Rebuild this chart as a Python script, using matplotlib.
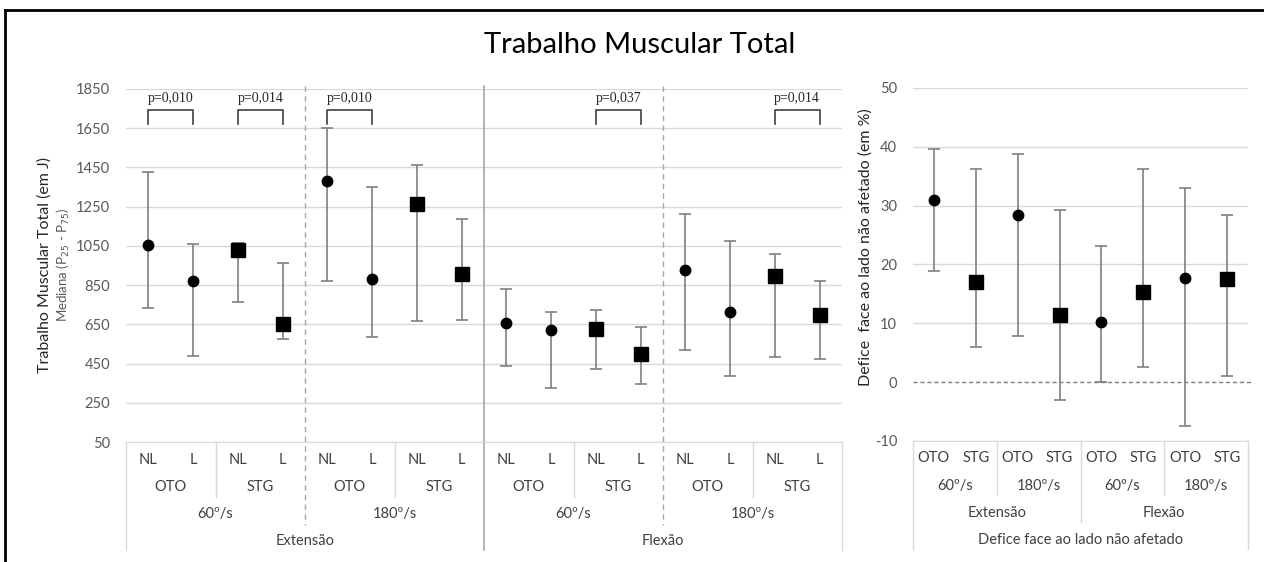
import numpy as np
import matplotlib.pyplot as plt
from matplotlib.lines import Line2D
from matplotlib.transforms import blended_transform_factory

plt.rcParams['font.family'] = ['Lato', 'DejaVu Sans']
plt.rcParams['axes.unicode_minus'] = False

# ---- data: left chart (Trabalho Muscular Total, J) ----
side = ["NL", "L"] * 8
group = ["OTO", "STG"] * 4
speed = ["60º/s", "180º/s"] * 2
movement = ["Extensão", "Flexão"]

tw_median = [1052, 872, 1030, 653, 1383, 880, 1263, 906, 656, 622, 628, 498, 928, 715, 895, 697]
tw_p25 = [734, 486, 763, 576, 873, 586, 666, 671, 437, 325, 422, 345, 521, 386, 483, 473]
tw_p75 = [1429, 1059, 1067, 962, 1650, 1349, 1463, 1187, 831, 715, 725, 636, 1213, 1074, 1011, 872]

pvals = [(0, "p=0,010"), (2, "p=0,014"), (4, "p=0,010"), (10, "p=0,037"), (14, "p=0,014")]

# ---- data: right chart (Defice face ao lado não afetado, %) ----
r_group = ["OTO", "STG"] * 4
r_speed = ["60º/s", "180º/s"] * 2
r_movement = ["Extensão", "Flexão"]

dfc_median = [31.0, 17.0, 28.4, 11.5, 10.2, 15.4, 17.7, 17.5]
dfc_p25 = [18.9, 5.9, 7.8, -3.0, 0.0, 2.6, -7.4, 1.1]
dfc_p75 = [39.6, 36.2, 38.7, 29.3, 23.1, 36.2, 33.0, 28.4]

W, H = 1264, 562
fig = plt.figure(figsize=(W / 100, H / 100), dpi=100)

GRID = '#d9d9d9'
TXT = '#404040'
TICK = '#595959'
ERR = '#7f7f7f'


def px_axes(x0, x1, ytop, ybot):
    return fig.add_axes([x0 / W, 1 - ybot / H, (x1 - x0) / W, (ybot - ytop) / H])


def draw_points(ax, med, lo, hi, groups):
    for i, (m, a, b, g) in enumerate(zip(med, lo, hi, groups)):
        ax.errorbar(i, m, yerr=[[m - a], [b - m]], fmt='none', ecolor=ERR,
                    elinewidth=1.2, capsize=4, capthick=1.2, zorder=3)
        if g == "OTO":
            ax.plot(i, m, 'o', color='black', ms=7.5, zorder=4)
        else:
            ax.plot(i, m, 's', color='black', ms=9.5, zorder=4)


def style_axes(ax):
    for s in ['top', 'right', 'left']:
        ax.spines[s].set_visible(False)
    ax.spines['bottom'].set_color(GRID)
    ax.tick_params(axis='y', length=0, labelsize=10.5, labelcolor=TICK, pad=11.5)
    ax.tick_params(axis='x', length=0, labelbottom=False)
    ax.yaxis.grid(True, color=GRID, lw=1)
    ax.set_axisbelow(True)


def vline(ax, x, y0, y1, **kw):
    tr = blended_transform_factory(ax.transData, ax.transAxes)
    ax.add_line(Line2D([x, x], [y0, y1], transform=tr, clip_on=False, **kw))


def cat_text(ax, x, y, s, **kw):
    tr = blended_transform_factory(ax.transData, ax.transAxes)
    ax.text(x, y, s, transform=tr, ha='center', va='center', fontsize=10.5,
            color=TXT, clip_on=False, **kw)


# ================= left chart =================
ax = px_axes(126, 842, 89, 442)
draw_points(ax, tw_median, tw_p25, tw_p75, [group[i // 2] for i in range(16)])
ax.set_xlim(-0.5, 15.5)
ax.set_ylim(50, 1850)
ax.set_yticks(np.arange(50, 1851, 200))
style_axes(ax)

hpx = 353.0
for i, s in enumerate(side):
    cat_text(ax, i, -18 / hpx, s)
for k, g in enumerate(group):
    cat_text(ax, 2 * k + 0.5, -45 / hpx, g)
for k, s in enumerate(speed):
    cat_text(ax, 4 * k + 1.5, -72 / hpx, s)
for k, m in enumerate(movement):
    cat_text(ax, 8 * k + 3.5, -99 / hpx, m)

for k in range(1, 8):
    if k % 2:
        vline(ax, 2 * k - 0.5, 0, -55 / hpx, color=GRID, lw=1)
vline(ax, -0.5, 0, -108 / hpx, color=GRID, lw=1)
vline(ax, 15.5, 0, -108 / hpx, color=GRID, lw=1)
for x in (3.5, 11.5):
    vline(ax, x, 1.008, -83 / hpx, color='#a6a6a6', lw=1, ls=(0, (4, 3)))
vline(ax, 7.5, 1.008, -108 / hpx, color='#a6a6a6', lw=1.2)

for i, lab in pvals:
    ax.plot([i, i, i + 1, i + 1], [1672, 1743, 1743, 1672], color='#404040', lw=1.2)
    ax.text(i + 0.5, 1800, lab, ha='center', va='center', fontsize=10,
            family='Liberation Serif', color='#262626')

fig.text(45 / W, 1 - 265 / H, "Trabalho Muscular Total (em J)", rotation=90,
         ha='center', va='center', fontsize=11.5, color='#262626')
fig.text(63 / W, 1 - 265 / H, r"Mediana (P$_{25}$ - P$_{75}$)", rotation=90,
         ha='center', va='center', fontsize=9.5, color=TICK)

# ================= right chart =================
axr = px_axes(913, 1248, 88, 441)
draw_points(axr, dfc_median, dfc_p25, dfc_p75, r_group)
axr.set_xlim(-0.5, 7.5)
axr.set_ylim(-10, 50)
axr.set_yticks(np.arange(-10, 51, 10))
style_axes(axr)
gl = axr.get_ygridlines()
gl[1].set_visible(False)
axr.add_line(Line2D([-0.5, 7.6], [0, 0], color='#7f7f7f', lw=1, ls=(0, (3, 2)),
                    clip_on=False, zorder=2))

for i, g in enumerate(r_group):
    cat_text(axr, i, -16.7 / hpx, g)
for k, s in enumerate(r_speed):
    cat_text(axr, 2 * k + 0.5, -44.7 / hpx, s)
for k, m in enumerate(r_movement):
    cat_text(axr, 4 * k + 1.5, -72 / hpx, m)
cat_text(axr, 3.5, -99 / hpx, "Defice face ao lado não afetado")

for x in (1.5, 5.5):
    vline(axr, x, 0, -54 / hpx, color=GRID, lw=1)
vline(axr, 3.5, 0, -81 / hpx, color=GRID, lw=1)
vline(axr, -0.5, 0, -108 / hpx, color=GRID, lw=1)
vline(axr, 7.5, 0, -108 / hpx, color=GRID, lw=1)

fig.text(866 / W, 1 - 247 / H, "Defice  face ao lado não afetado (em %)", rotation=90,
         ha='center', va='center', fontsize=11.5, color='#262626')

# ---- title and frame ----
fig.text(640 / W, 1 - 45 / H, "Trabalho Muscular Total", ha='center', va='center',
         fontsize=21, color='black')
fig.add_artist(Line2D([5 / W, 1], [1 - 10 / H, 1 - 10 / H], color='black', lw=2,
                      transform=fig.transFigure))
fig.add_artist(Line2D([5 / W, 5 / W], [0, 1 - 10 / H], color='black', lw=2,
                      transform=fig.transFigure))

fig.savefig("out.png", dpi=100)
